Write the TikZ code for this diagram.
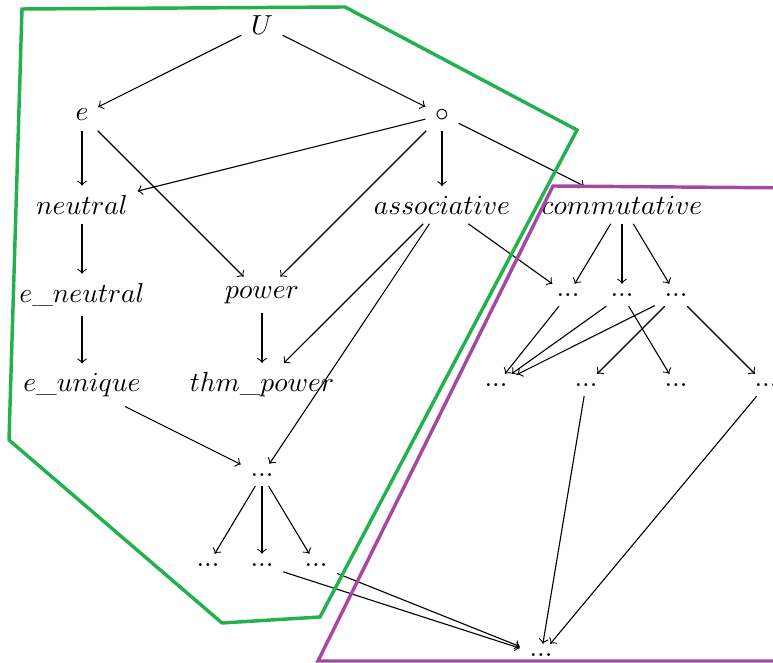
\documentclass[tikz,border=0pt]{standalone}
\definecolor{hullgreen}{RGB}{34,177,76}
\definecolor{hullpurple}{RGB}{163,73,164}
\begin{document}
\begin{tikzpicture}[x=0.363pt,y=-0.363pt,
  dep/.style={->},
  hull/.style={line width=1.25pt,line join=miter}]
\useasboundingbox (0,0) rectangle (773,663);

% dependency nodes, on a grid of rows 90 units apart
\node (U)        at (262,25)  {$U$};
\node (e)        at (82,115)  {$e$};
\node (op)       at (442,115) {$\circ$};
\node (neutral)  at (82,205)  {$neutral$};
\node (assoc)    at (442,205) {$associative$};
\node (comm)     at (622,205) {$commutative$};
\node (eneutral) at (82,295)  {$e\_neutral$};
\node (power)    at (262,295) {$power$};
\node (c1)       at (568,295) {$...$};
\node (c2)       at (622,295) {$...$};
\node (c3)       at (676,295) {$...$};
\node (eunique)  at (82,385)  {$e\_unique$};
\node (thmpower) at (262,385) {$thm\_power$};
\node (r1)       at (496,385) {$...$};
\node (r2)       at (586,385) {$...$};
\node (r3)       at (676,385) {$...$};
\node (r4)       at (766,385) {$...$};
\node (d)        at (262,475) {$...$};
\node (d1)       at (208,565) {$...$};
\node (d2)       at (262,565) {$...$};
\node (d3)       at (316,565) {$...$};
\node (b)        at (541,655) {$...$};

% dependencies
\draw[dep] (U) -- (e);
\draw[dep] (U) -- (op);
\draw[dep] (e) -- (neutral);
\draw[dep] (e) -- (power);
\draw[dep] (op) -- (neutral);
\draw[dep] (op) -- (power);
\draw[dep] (op) -- (assoc);
\draw[dep] (op) -- (comm);
\draw[dep] (neutral) -- (eneutral);
\draw[dep] (eneutral) -- (eunique);
\draw[dep] (power) -- (thmpower);
\draw[dep] (assoc) -- (thmpower);
\draw[dep] (assoc) -- (d);
\draw[dep] (assoc) -- (c1);
\draw[dep] (comm) -- (c1);
\draw[dep] (comm) -- (c2);
\draw[dep] (comm) -- (c3);
\draw[dep] (eunique) -- (d);
\draw[dep] (d) -- (d1);
\draw[dep] (d) -- (d2);
\draw[dep] (d) -- (d3);
\draw[dep] (d2) -- (b);
\draw[dep] (d3) -- (b);
\draw[dep] (c1) -- (r1);
\draw[dep] (c2) -- (r1);
\draw[dep] (c3) -- (r1);
\draw[dep] (c3) -- (r2);
\draw[dep] (c2) -- (r3);
\draw[dep] (c3) -- (r4);
\draw[dep] (r2) -- (b);
\draw[dep] (r4) -- (b);

% hand-drawn outlines of the two groups
\draw[hull,hullgreen] (22,9) -- (345,7) -- (577,130) -- (320,617)
  -- (222,623) -- (9,440) -- cycle;
\draw[hull,hullpurple] (800,188) -- (553,186) -- (318,661) -- (800,661);
\end{tikzpicture}
\end{document}
